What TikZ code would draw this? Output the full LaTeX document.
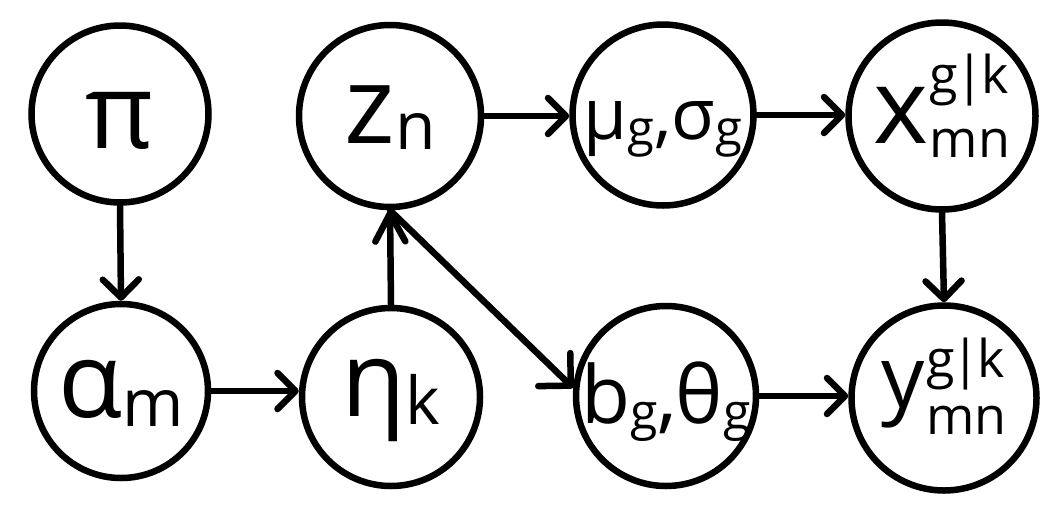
\documentclass[tikz,border=0pt]{standalone}
\usepackage{fontspec}
\setmainfont{Open Sans}
\usetikzlibrary{arrows.meta}
\newcommand\fsz[1]{\fontsize{#1}{#1}\selectfont}
\newcommand\lift[2]{\smash{\raisebox{#1}{#2}}}
% main, sub, main size, sub size, baseline below centre, sub drop
\newcommand\slab[6]{\lift{-#5pt}{\fsz{#3}#1\raisebox{-#6pt}{\fsz{#4}#2}}}
% main, main size, script size, baseline below centre, sup raise, sub drop
\newcommand\sslab[6]{\lift{-#4pt}{\fsz{#2}#1\kern1pt\rlap{\raisebox{#5pt}{\fsz{#3}g\kern-3pt|\kern-3pt k}}\raisebox{-#6pt}{\fsz{#3}mn}}}
\tikzset{
  rv/.style={circle, draw, line width=6.5pt, inner sep=0pt, minimum size=#1},
  arr/.style={line width=6.5pt, line cap=round,
    -{Straight Barb[length=18pt,width=36pt,round]}},
  arrnarrow/.style={line width=6.5pt, line cap=round,
    -{Straight Barb[length=28pt,width=30pt,round]}},
  arrwide/.style={line width=6.5pt, line cap=round,
    -{Straight Barb[length=23pt,width=46pt,round]}},
}
\begin{document}
\begin{tikzpicture}[x=1pt,y=-1pt]
\fill[white] (0,0) rectangle (1059,517);
\useasboundingbox (0,0) rectangle (1059,517);
\node[rv=177] (pi) at (120,114) {\lift{-34pt}{\fsz{105}π}};
\node[rv=182] (z) at (390,116) {\slab{z}{n}{108}{66}{27}{6}};
\node[rv=181] (mu) at (663,115) {\slab{μ}{g}{71}{49}{24}{6}\slab{,σ}{g}{71}{49}{24}{6}};
\node[rv=187] (x) at (942,116) {\sslab{x}{105}{52}{27}{50}{14}};
\node[rv=174] (al) at (121,391) {\slab{α}{m}{105}{66}{26}{9}};
\node[rv=178] (eta) at (391,397) {\slab{η}{k}{105}{66}{19}{8}};
\node[rv=180] (bt) at (666,396) {\slab{b}{g}{80}{50}{27}{6}\slab{,θ}{g}{80}{50}{27}{6}};
\node[rv=185] (y) at (944,398) {\sslab{y}{86}{52}{9}{30}{27}};
\draw[arr] (pi.south) -- (al.north);
\draw[arr] (al.east) -- (al.east -| eta.west);
\draw[arrnarrow] (eta.north) -- (z.south);
\draw[arrwide] (z.south) -- (bt.175);
\draw[arr] (z.east) -- (z.east -| mu.west);
\draw[arr] (mu.east) -- (mu.east -| x.west);
\draw[arr] (x.south) -- (y.north);
\draw[arr] (bt.east) -- (bt.east -| y.west);
\end{tikzpicture}
\end{document}
